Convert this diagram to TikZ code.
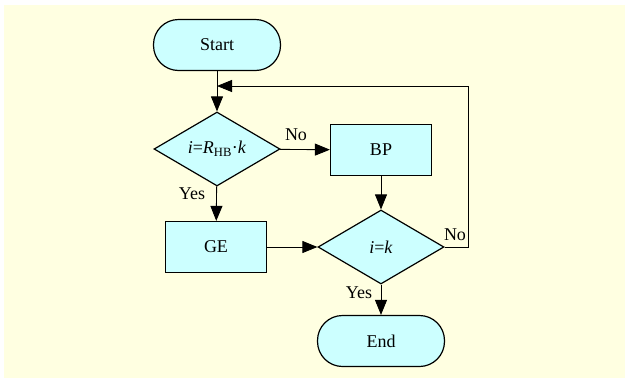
\documentclass[tikz,border=0pt]{standalone}
\usepackage{fontspec}
\setmainfont{Liberation Serif}
\usetikzlibrary{arrows.meta,shapes.geometric}
\definecolor{bgyellow}{RGB}{255,255,225}
\definecolor{boxcyan}{RGB}{204,255,255}

\begin{document}
\begin{tikzpicture}[x=1pt, y=-1pt,
		every node/.style={font=\fontsize{18}{20}\selectfont},
		terminal/.style={draw, line width=1.2pt, fill=boxcyan, rounded corners=25pt, minimum width=127pt, minimum height=51pt},
		process/.style={draw, line width=1.2pt, fill=boxcyan, minimum width=101pt, minimum height=51pt},
		decision/.style={draw, diamond, line width=1.2pt, fill=boxcyan, minimum width=126pt, minimum height=74pt, inner sep=0pt},
		flow/.style={line width=0.9pt, -{Triangle[length=15pt, width=12pt]}},
		line/.style={line width=0.9pt}]
		%%%%% START %%%%%
		
		\useasboundingbox (0, 0) rectangle (630, 381);
		\fill[bgyellow] (4, 5) rectangle (625, 378);
		
		\node[terminal] (start) at (217, 45) {Start};
		\node[decision] (testhb) at (217, 149) {\textit{i}=\textit{R}\textsubscript{HB}·\textit{k}};
		\node[process] (bp) at (381, 150) {BP};
		\node[process] (ge) at (216, 247) {GE};
		\node[decision] (testk) at (381, 247) {\textit{i}=\textit{k}};
		\node[terminal] (end) at (381, 341) {End};
		
		\coordinate (merge) at (217, 86);
		
		\draw[line] (start) -- (merge);
		\draw[flow] (merge) -- (testhb);
		\draw[flow] (testhb) -- (bp);
		\draw[flow] (testhb) -- (ge);
		\draw[flow] (bp) -- (testk);
		\draw[flow] (ge) -- (testk);
		\draw[flow] (testk) -- (end);
		\draw[flow] (testk.east) -- ++(24, 0) |- (merge);
		
		\node (nohb) at (296, 135) {No};
		\node (yeshb) at (192, 194) {Yes};
		\node (nok) at (455, 235) {No};
		\node (yesk) at (359, 293) {Yes};
		
		%%%%% END %%%%%
\end{tikzpicture}
\end{document}
